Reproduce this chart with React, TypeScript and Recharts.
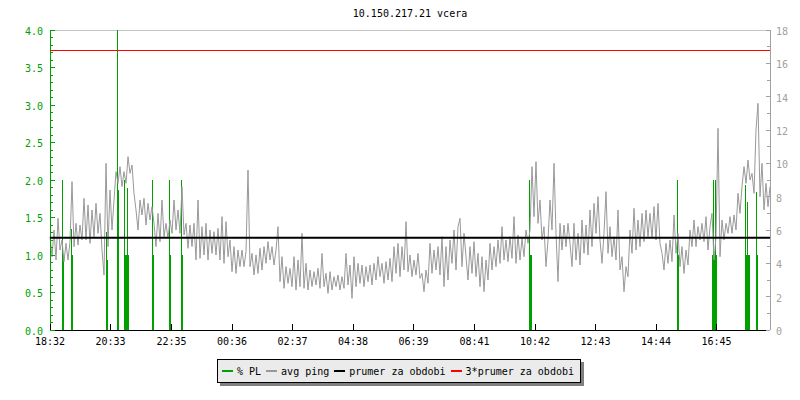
import React from "react";
import {
  ComposedChart,
  Bar,
  Line,
  XAxis,
  YAxis,
  CartesianGrid,
  ReferenceLine,
} from "recharts";

const TITLE = "10.150.217.21 vcera";
const GREEN = "#00a000";
const GRAY = "#999999";
const AXIS_GRAY = "#a0a0a0";
const FONT = "'DejaVu Sans Mono', monospace";

// x axis labels (start of window is 18:32)
const timeLabels = ["18:32", "20:33", "22:35", "00:36", "02:37", "04:38", "06:39", "08:41", "10:42", "12:43", "14:44", "16:45"];
const leftMajor = [0, 0.5, 1, 1.5, 2, 2.5, 3, 3.5, 4];

// avg ping in ms, one sample every 4 minutes from 18:32
const PING_STEP = 4;
const pingValues = [
  5.6, 4.4, 6.0, 4.2, 6.7, 4.8, 5.4, 4.1, 5.2, 4.2, 5.3, 8.9, 5.0, 6.4, 5.1, 6.3, 5.4, 7.9, 5.4, 7.5,
  5.2, 7.2, 5.6, 7.6, 5.8, 7.0, 4.8, 3.3, 10.0, 5.0, 8.4, 6.0, 7.8, 9.5, 8.8, 9.8, 8.6, 9.5, 8.8, 10.4,
  9.4, 9.9, 8.2, 7.2, 6.0, 7.8, 6.9, 7.9, 6.3, 7.6, 6.6, 7.4, 6.4, 5.0, 7.0, 5.3, 7.8, 5.6, 6.4, 5.5,
  6.6, 5.8, 7.8, 6.0, 7.2, 5.8, 8.6, 5.7, 6.4, 4.9, 6.3, 5.0, 6.4, 4.2, 7.8, 4.3, 6.2, 4.5, 6.4, 4.2,
  6.0, 4.6, 5.9, 4.5, 6.1, 4.2, 6.8, 4.0, 6.5, 4.4, 5.4, 3.5, 5.0, 3.4, 4.8, 3.8, 4.8, 3.8, 4.7, 9.6,
  3.8, 4.6, 3.3, 4.5, 3.4, 4.9, 3.6, 5.0, 4.0, 5.3, 4.2, 5.0, 3.9, 4.8, 6.2, 2.9, 4.4, 2.5, 3.8, 2.8,
  3.7, 2.6, 4.4, 2.4, 4.2, 2.6, 5.8, 2.5, 4.0, 2.4, 3.6, 2.6, 3.5, 2.7, 3.7, 2.5, 4.6, 2.6, 3.4, 2.2,
  3.5, 2.4, 3.2, 2.6, 3.3, 2.4, 3.2, 2.5, 4.6, 2.7, 3.9, 1.9, 4.4, 2.6, 4.0, 2.8, 3.9, 2.6, 3.8, 2.9,
  3.9, 2.7, 4.0, 3.0, 4.4, 3.2, 4.0, 2.8, 4.1, 3.0, 4.3, 2.9, 5.0, 3.4, 5.2, 3.2, 5.0, 3.6, 6.5, 3.5,
  4.5, 3.2, 4.2, 3.3, 4.6, 3.1, 3.4, 2.3, 3.6, 2.8, 5.2, 3.4, 4.8, 3.6, 5.0, 3.3, 5.6, 2.6, 5.0, 3.0,
  5.4, 4.0, 6.0, 3.6, 6.2, 6.7, 3.8, 5.8, 4.4, 3.0, 5.0, 3.4, 5.3, 3.2, 4.6, 2.6, 4.4, 2.3, 4.2, 3.0,
  5.2, 3.6, 5.0, 3.8, 5.4, 4.0, 6.2, 4.2, 5.4, 4.1, 5.6, 4.3, 6.8, 4.0, 5.7, 4.2, 5.5, 4.4, 6.0, 5.2,
  6.0, 9.8, 6.8, 10.1, 6.4, 7.8, 5.4, 6.2, 3.8, 5.4, 7.8, 6.0, 10.0, 5.8, 2.9, 6.4, 4.8, 6.3, 5.0, 6.4,
  5.2, 3.8, 6.4, 4.2, 5.8, 3.9, 6.6, 4.6, 6.3, 4.5, 7.2, 5.0, 7.6, 5.8, 8.0, 5.4, 4.0, 5.8, 8.3, 4.6,
  6.2, 4.4, 5.6, 4.2, 7.2, 3.6, 4.4, 2.3, 3.8, 3.2, 6.0, 4.6, 7.3, 4.8, 6.6, 5.0, 7.0, 5.3, 7.2, 5.6,
  7.0, 5.5, 7.4, 5.4, 7.6, 5.2, 4.6, 3.6, 5.2, 4.0, 5.4, 4.1, 6.9, 4.6, 5.8, 3.8, 5.0, 3.4, 4.8, 3.9,
  6.0, 5.0, 6.6, 5.0, 6.2, 5.4, 6.4, 5.3, 6.8, 4.8, 6.2, 7.0, 4.2, 5.6, 12.1, 4.4, 6.6, 5.4, 6.4, 5.8,
  6.8, 5.8, 6.9, 6.0, 8.2, 7.0, 8.6, 9.8, 8.8, 10.2, 9.0, 9.4, 8.2, 12.0, 13.6, 8.0, 10.0, 7.2, 8.8, 7.4,
  8.6,
];

// packet loss (%), minutes after 18:32
const plTimes = [
  24, 26, 42, 44, 112, 114, 134, 136, 148, 150, 152, 154, 156, 204, 206, 238, 240, 262, 264,
  958, 960, 962, 1254, 1256, 1324, 1326, 1328, 1330, 1332, 1390, 1392, 1394, 1396, 1398, 1412, 1414,
];
const plValues = [
  2.0, 1.0, 1.35, 1.0, 1.31, 0.93, 4.0, 1.87, 2.0, 1.0, 1.0, 1.9, 1.0, 2.0, 1.0, 2.0, 1.0, 2.0, 1.0,
  2.0, 1.0, 1.0, 2.0, 1.0, 1.0, 2.0, 1.0, 2.0, 1.0, 1.93, 1.0, 1.7, 1.0, 1.0, 1.84, 1.0,
];

const AVG_PING = 5.54;
const AVG_PING_3X = 16.78;

const legendItems = [
  { label: "% PL", color: GREEN },
  { label: "avg ping", color: GRAY },
  { label: "prumer za obdobi", color: "#000000" },
  { label: "3*prumer za obdobi", color: "#ff0000" },
];

const toMinutes = (label: string) => {
  const [h, m] = label.split(":").map(Number);
  return (h * 60 + m - (18 * 60 + 32) + 1440) % 1440;
};

const xTicks = timeLabels.map(toMinutes);
const leftTicks = Array.from({ length: 41 }, (_, i) => i / 10);
const rightTicks = Array.from({ length: 19 }, (_, i) => i);

interface Row {
  t: number;
  ping?: number;
  pl?: number;
}

const rowMap = new Map<number, Row>();
pingValues.forEach((v, i) => rowMap.set(i * PING_STEP, { t: i * PING_STEP, ping: v }));
plTimes.forEach((t, i) => {
  const r = rowMap.get(t) ?? { t };
  r.pl = plValues[i];
  rowMap.set(t, r);
});
const data = [...rowMap.values()].sort((a, b) => a.t - b.t);

const isMajor = (v: number, step: number) => Math.abs(v / step - Math.round(v / step)) < 1e-6;

function LeftTick({ x, y, payload }: any) {
  const major = isMajor(payload.value, 0.5);
  return (
    <g>
      <line x1={x} x2={x + (major ? 5 : 3)} y1={y} y2={y} stroke={GREEN} shapeRendering="crispEdges" />
      {major && (
        <text x={x - 7} y={y + 4.5} textAnchor="end" fill={GREEN} fontSize={10} fontFamily={FONT}>
          {payload.value.toFixed(1)}
        </text>
      )}
    </g>
  );
}

function RightTick({ x, y, payload }: any) {
  const major = isMajor(payload.value, 2);
  return (
    <g>
      <line x1={x - (major ? 4 : 3)} x2={x} y1={y} y2={y} stroke={AXIS_GRAY} shapeRendering="crispEdges" />
      {major && (
        <text x={x + 6} y={y + 5} textAnchor="start" fill={AXIS_GRAY} fontSize={10} fontFamily={FONT}>
          {payload.value}
        </text>
      )}
    </g>
  );
}

function BottomTick({ x, y, payload, index }: any) {
  return (
    <g>
      <line x1={x} x2={x} y1={y} y2={y - 6} stroke="#000" shapeRendering="crispEdges" />
      <text x={x} y={y + 15} textAnchor="middle" fill="#000" fontSize={10} fontFamily={FONT}>
        {timeLabels[index] ?? payload.value}
      </text>
    </g>
  );
}

// pixel-snapped bar so the 1px loss spikes stay solid green
function PlBar({ x, y, width, height }: any) {
  if (x == null || y == null || !height) return null;
  const left = Math.round(x);
  const top = Math.round(y);
  const bottom = Math.round(y + height);
  return <rect x={left} y={top} width={Math.max(1, Math.round(width))} height={bottom - top} fill={GREEN} />;
}

export default function App() {
  return (
    <div style={{ position: "absolute", left: 0, top: 0, width: 800, height: 400, background: "#fff", fontFamily: FONT }}>
      <div style={{ position: "absolute", top: 8, left: 0, width: 820, textAlign: "center", fontSize: 10, lineHeight: "12px" }}>
        {TITLE}
      </div>

      <ComposedChart width={800} height={400} data={data} margin={{ top: 30, right: 0, bottom: 50, left: 0 }}>
        <XAxis
          dataKey="t"
          type="number"
          domain={[0, 1440]}
          ticks={xTicks}
          interval={0}
          tick={<BottomTick />}
          tickLine={false}
          tickSize={0}
          tickMargin={0}
          height={20}
          axisLine={{ stroke: "#000", shapeRendering: "crispEdges" }}
        />
        <YAxis
          yAxisId="pl"
          domain={[0, 4]}
          ticks={leftTicks}
          interval={0}
          width={50}
          tick={<LeftTick />}
          tickLine={false}
          tickSize={0}
          tickMargin={0}
          allowDataOverflow
          axisLine={{ stroke: GREEN, shapeRendering: "crispEdges" }}
        />
        <YAxis
          yAxisId="ping"
          orientation="right"
          domain={[0, 18]}
          ticks={rightTicks}
          interval={0}
          width={30}
          tick={<RightTick />}
          tickLine={false}
          tickSize={0}
          tickMargin={0}
          allowDataOverflow
          axisLine={{ stroke: AXIS_GRAY, shapeRendering: "crispEdges" }}
        />
        <YAxis yAxisId="grid" orientation="right" domain={[0, 4]} ticks={leftMajor} width={0} hide />
        <CartesianGrid yAxisId="grid" vertical={false} stroke="#c4c4c4" shapeRendering="crispEdges" />
        <Bar yAxisId="pl" dataKey="pl" fill={GREEN} barSize={1} shape={<PlBar />} isAnimationActive={false} />
        <Line
          yAxisId="ping"
          dataKey="ping"
          type="linear"
          stroke={GRAY}
          strokeWidth={1}
          dot={false}
          activeDot={false}
          connectNulls
          isAnimationActive={false}
        />
        <ReferenceLine yAxisId="ping" y={AVG_PING} stroke="#000" strokeWidth={2} zIndex={600} />
        <ReferenceLine yAxisId="ping" y={AVG_PING_3X} stroke="#ff0000" strokeWidth={1} zIndex={600} shapeRendering="crispEdges" />
      </ComposedChart>

      <div
        style={{
          position: "absolute",
          left: 217,
          top: 359,
          width: 364,
          height: 24,
          boxSizing: "border-box",
          border: "1px solid #000",
          background: "#ebebeb",
          boxShadow: "3px 3px 0 #808080",
          display: "flex",
          alignItems: "center",
          paddingLeft: 4,
          fontSize: 10,
          whiteSpace: "nowrap",
        }}
      >
        {legendItems.map((item) => (
          <div key={item.label} style={{ display: "flex", alignItems: "center", marginRight: 5 }}>
            <span style={{ display: "inline-block", width: 11, height: 2, background: item.color, marginRight: 4 }} />
            <span>{item.label}</span>
          </div>
        ))}
      </div>
    </div>
  );
}
